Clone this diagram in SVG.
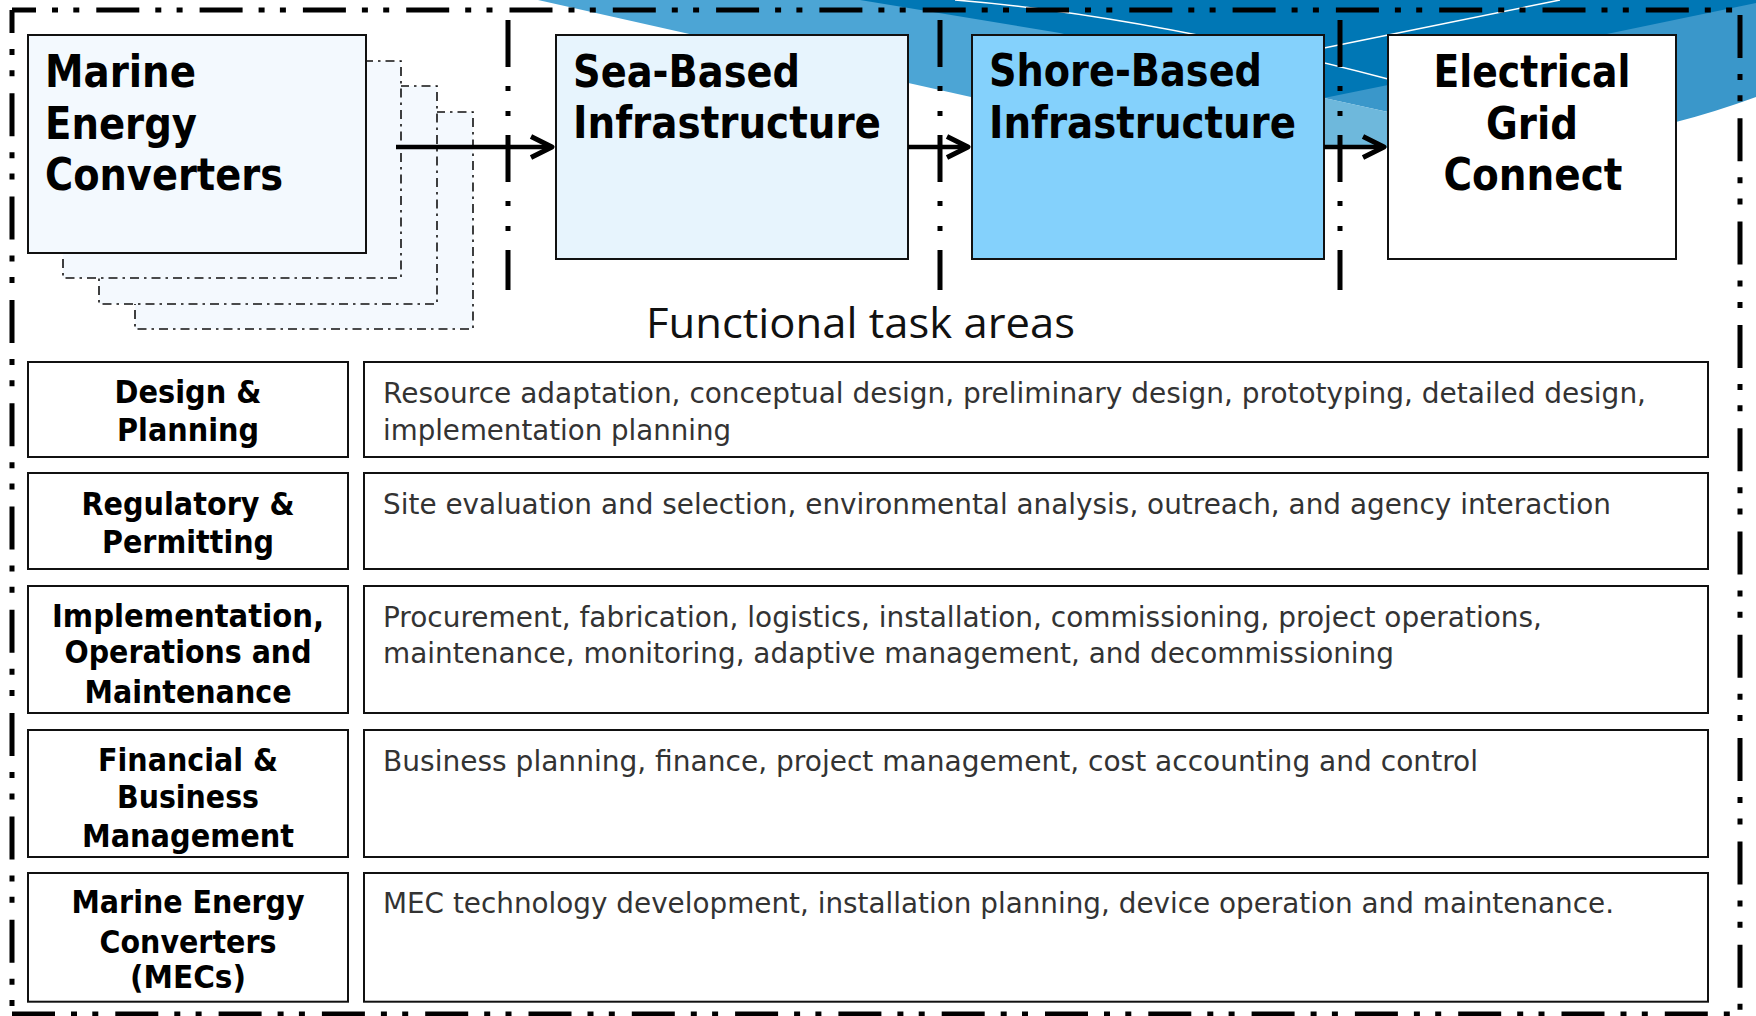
<svg xmlns="http://www.w3.org/2000/svg" width="1756" height="1016" viewBox="0 0 1756 1016">
<defs>
<style>
.bd{fill:none;stroke:#000;stroke-width:5;stroke-dasharray:43 16 6 15.3 6 17;}
.dv{fill:none;stroke:#000;stroke-width:5;stroke-dasharray:47 19 5 20 5 19;}
.sh{fill:#F4F9FE;stroke:#111;stroke-width:1.6;stroke-dasharray:9 5 2.5 5;}
.bx{stroke:#111;stroke-width:2;}
.t1{font-family:"DejaVu Sans",Verdana,sans-serif;font-weight:bold;font-size:44px;fill:#000;}
.t2{font-family:"DejaVu Sans",Verdana,sans-serif;font-weight:bold;font-size:32px;fill:#000;text-anchor:middle;}
.t3{font-family:"DejaVu Sans",Verdana,sans-serif;font-size:29px;fill:#333;}
.ft{font-family:"Open Sans","Noto Sans",sans-serif;font-size:42px;fill:#111;}
.ar{fill:none;stroke:#000;stroke-width:4.5;marker-end:url(#chev);}
.wl{fill:none;stroke:#fff;stroke-width:1.5;}
</style>
<marker id="chev" viewBox="-30 -15 36 30" refX="0" refY="0" markerWidth="36" markerHeight="30" markerUnits="userSpaceOnUse" orient="auto">
<path d="M-21,-10.5 L0,0 L-21,10.5" fill="none" stroke="#000" stroke-width="5" stroke-linejoin="round"/>
</marker>
</defs>
<rect width="1756" height="1016" fill="#fff"/>
<g id="wave">
<polygon points="538,0 971,97 1200,148 1200,0" fill="#4CA5D5"/>
<path d="M1300,0 L1756,0 L1756,97 Q1715,112 1676,122 L1388,112 L1324,98 L1300,98 Z" fill="#3A97CA"/>
<polygon points="1320,97 1388,112 1420,117 1420,148 1320,148" fill="#6EB8DC"/>
<path d="M860,0 L1060,33 L1324,98 L1388,85 L1602,35 L1756,3 L1756,0 Z" fill="#0077B5"/>
<path class="wl" d="M955,0 Q1141.7,14.9 1388,79"/>
<path class="wl" d="M1560,0 L1324,48"/>
</g>
<g id="frame">
<line class="bd" x1="12" y1="10" x2="1742" y2="10" stroke-dashoffset="19"/>
<line class="bd" x1="12" y1="10" x2="12" y2="1016" stroke-dashoffset="20"/>
<line class="bd" x1="12" y1="1014" x2="1740" y2="1014"/>
<line class="bd" x1="1740" y1="15" x2="1740" y2="1016"/>
</g>
<g id="dividers">
<line class="dv" x1="508" y1="20" x2="508" y2="290"/>
<line class="dv" x1="940" y1="20" x2="940" y2="290"/>
<line class="dv" x1="1340" y1="20" x2="1340" y2="290"/>
</g>
<g id="mec">
<rect class="sh" x="135" y="112" width="338" height="217"/>
<rect class="sh" x="99" y="86" width="338" height="218"/>
<rect class="sh" x="63" y="61" width="338" height="217"/>
<rect class="bx" x="28" y="35" width="338" height="218" fill="#F3F9FE"/>
<text class="t1" x="45" y="87" textLength="151" lengthAdjust="spacingAndGlyphs">Marine</text>
<text class="t1" x="45" y="138.5" textLength="152" lengthAdjust="spacingAndGlyphs">Energy</text>
<text class="t1" x="45" y="190" textLength="238" lengthAdjust="spacingAndGlyphs">Converters</text>
</g>
<g id="sea">
<rect class="bx" x="556" y="35" width="352" height="224" fill="#E7F4FD"/>
<text class="t1" x="573" y="87" textLength="227" lengthAdjust="spacingAndGlyphs">Sea-Based</text>
<text class="t1" x="573" y="138" textLength="308" lengthAdjust="spacingAndGlyphs">Infrastructure</text>
</g>
<g id="shore">
<rect class="bx" x="972" y="35" width="352" height="224" fill="#84D1FC"/>
<text class="t1" x="989" y="86" textLength="273" lengthAdjust="spacingAndGlyphs">Shore-Based</text>
<text class="t1" x="989" y="138" textLength="307" lengthAdjust="spacingAndGlyphs">Infrastructure</text>
</g>
<g id="grid">
<rect class="bx" x="1388" y="35" width="288" height="224" fill="#fff"/>
<text class="t1" x="1532" y="87" text-anchor="middle" textLength="197" lengthAdjust="spacingAndGlyphs">Electrical</text>
<text class="t1" x="1532" y="138.5" text-anchor="middle" textLength="92" lengthAdjust="spacingAndGlyphs">Grid</text>
<text class="t1" x="1533" y="190" text-anchor="middle" textLength="179" lengthAdjust="spacingAndGlyphs">Connect</text>
</g>
<g id="connectors">
<line class="ar" x1="396" y1="147" x2="552" y2="147"/>
<line class="ar" x1="908" y1="147" x2="968" y2="147"/>
<line class="ar" x1="1324" y1="147" x2="1384" y2="147"/>
</g>
<g id="title">
<text class="ft" x="646" y="338" textLength="429" lengthAdjust="spacingAndGlyphs">Functional task areas</text>
</g>
<g id="row1">
<rect class="bx" x="28" y="362" width="320" height="95" fill="#fff"/>
<rect class="bx" x="364" y="362" width="1344" height="95" fill="#fff"/>
<text class="t2" x="188" y="403" textLength="147" lengthAdjust="spacingAndGlyphs">Design &amp;</text>
<text class="t2" x="188" y="440.5" textLength="142" lengthAdjust="spacingAndGlyphs">Planning</text>
<text class="t3" x="383" y="402.7" textLength="1263" lengthAdjust="spacingAndGlyphs">Resource adaptation, conceptual design, preliminary design, prototyping, detailed design,</text>
<text class="t3" x="383" y="440" textLength="348" lengthAdjust="spacingAndGlyphs">implementation planning</text>
</g>
<g id="row2">
<rect class="bx" x="28" y="473" width="320" height="96" fill="#fff"/>
<rect class="bx" x="364" y="473" width="1344" height="96" fill="#fff"/>
<text class="t2" x="188" y="515" textLength="213" lengthAdjust="spacingAndGlyphs">Regulatory &amp;</text>
<text class="t2" x="188" y="552.7" textLength="172" lengthAdjust="spacingAndGlyphs">Permitting</text>
<text class="t3" x="383" y="514" textLength="1228" lengthAdjust="spacingAndGlyphs">Site evaluation and selection, environmental analysis, outreach, and agency interaction</text>
</g>
<g id="row3">
<rect class="bx" x="28" y="586" width="320" height="127" fill="#fff"/>
<rect class="bx" x="364" y="586" width="1344" height="127" fill="#fff"/>
<text class="t2" x="188" y="626.7" textLength="272" lengthAdjust="spacingAndGlyphs">Implementation,</text>
<text class="t2" x="188" y="663.3" textLength="247" lengthAdjust="spacingAndGlyphs">Operations and</text>
<text class="t2" x="188" y="703" textLength="207" lengthAdjust="spacingAndGlyphs">Maintenance</text>
<text class="t3" x="383" y="626.7" textLength="1159" lengthAdjust="spacingAndGlyphs">Procurement, fabrication, logistics, installation, commissioning, project operations,</text>
<text class="t3" x="383" y="663.3" textLength="1011" lengthAdjust="spacingAndGlyphs">maintenance, monitoring, adaptive management, and decommissioning</text>
</g>
<g id="row4">
<rect class="bx" x="28" y="730" width="320" height="127" fill="#fff"/>
<rect class="bx" x="364" y="730" width="1344" height="127" fill="#fff"/>
<text class="t2" x="188" y="770.7" textLength="180" lengthAdjust="spacingAndGlyphs">Financial &amp;</text>
<text class="t2" x="188" y="808.3" textLength="142" lengthAdjust="spacingAndGlyphs">Business</text>
<text class="t2" x="188" y="846.7" textLength="212" lengthAdjust="spacingAndGlyphs">Management</text>
<text class="t3" x="383" y="770.7" textLength="1095" lengthAdjust="spacingAndGlyphs">Business planning, finance, project management, cost accounting and control</text>
</g>
<g id="row5">
<rect class="bx" x="28" y="873" width="320" height="128.7" fill="#fff"/>
<rect class="bx" x="364" y="873" width="1344" height="128.7" fill="#fff"/>
<text class="t2" x="188" y="913.3" textLength="233" lengthAdjust="spacingAndGlyphs">Marine Energy</text>
<text class="t2" x="188" y="952.7" textLength="177" lengthAdjust="spacingAndGlyphs">Converters</text>
<text class="t2" x="188" y="988" textLength="116" lengthAdjust="spacingAndGlyphs">(MECs)</text>
<text class="t3" x="383" y="913.3" textLength="1231" lengthAdjust="spacingAndGlyphs">MEC technology development, installation planning, device operation and maintenance.</text>
</g>
</svg>
